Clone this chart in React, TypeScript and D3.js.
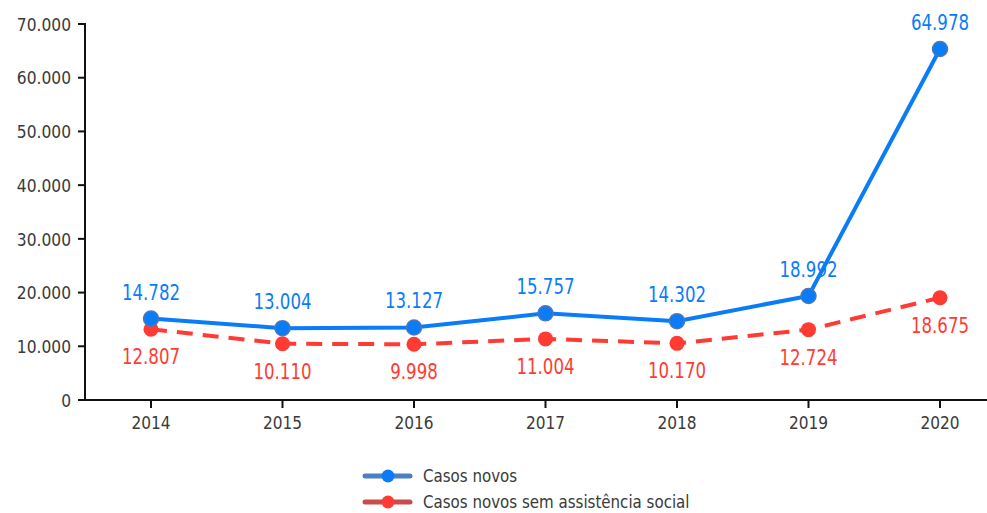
import React from "react";
import * as d3 from "d3";

const years = ["2014", "2015", "2016", "2017", "2018", "2019", "2020"];
const casosNovos = [14782, 13004, 13127, 15757, 14302, 18992, 64978];
const semAssistencia = [12807, 10110, 9998, 11004, 10170, 12724, 18675];
const yTicks = [0, 10000, 20000, 30000, 40000, 50000, 60000, 70000];
const seriesNames = ["Casos novos", "Casos novos sem assistência social"];

const W = 987;
const H = 513;
const FONT = "'DejaVu Sans Condensed', 'DejaVu Sans', sans-serif";
const BLUE = "#0a7cf7";
const RED = "#ff3b33";

const fmt = (v: number) => d3.format(",")(v).replace(/,/g, ".");

function CText(props: {
  x: number;
  y: number;
  sx: number;
  size: number;
  fill: string;
  anchor?: string;
  dy?: string;
  children: React.ReactNode;
}) {
  const { x, y, sx, size, fill, anchor, dy, children } = props;
  return (
    <g transform={`translate(${x},${y}) scale(${sx},1)`}>
      <text
        x={0}
        y={0}
        dy={dy}
        textAnchor={anchor || "start"}
        fontFamily={FONT}
        fontSize={size}
        fill={fill}
      >
        {children}
      </text>
    </g>
  );
}

export default function App() {
  const x = d3.scalePoint<string>().domain(years).range([151, 940]);
  const y = d3.scaleLinear().domain([0, 70000]).range([400, 24]);
  const line = d3
    .line<number>()
    .x((_, i) => x(years[i]) as number)
    .y((d) => y(d));

  return (
    <svg width={W} height={H} style={{ position: "absolute", left: 0, top: 0 }}>
      <rect width={W} height={H} fill="#fff" />
      {/* Y axis */}
      <line x1={85} x2={85} y1={23} y2={401} stroke="#111" strokeWidth={2} />
      {yTicks.map((t) => (
        <g key={t}>
          <line x1={78} x2={85} y1={y(t)} y2={y(t)} stroke="#111" strokeWidth={2} />
          <CText x={71} y={y(t)} dy="0.36em" anchor="end" size={18.5} sx={0.93} fill="#3a3a3a">
            {fmt(t)}
          </CText>
        </g>
      ))}
      {/* X axis */}
      <line x1={84} x2={W} y1={400} y2={400} stroke="#111" strokeWidth={2} />
      {years.map((yr) => (
        <g key={yr}>
          <line x1={x(yr)} x2={x(yr)} y1={400} y2={408} stroke="#111" strokeWidth={2} />
          <CText x={x(yr) as number} y={423} dy="0.36em" anchor="middle" size={18} sx={0.95} fill="#3a3a3a">
            {yr}
          </CText>
        </g>
      ))}
      <g transform="translate(0,-2)">
        <path
          d={line(semAssistencia) || ""}
          fill="none"
          stroke={RED}
          strokeWidth={4}
          strokeDasharray="16 10"
        />
        <path d={line(casosNovos) || ""} fill="none" stroke={BLUE} strokeWidth={4} />
        {semAssistencia.map((v, i) => (
          <g key={"r" + i}>
            <circle cx={x(years[i])} cy={y(v)} r={7.5} fill={RED} />
            <CText x={x(years[i]) as number} y={y(v) + 35} anchor="middle" size={22} sx={0.84} fill={RED}>
              {fmt(v)}
            </CText>
          </g>
        ))}
        {casosNovos.map((v, i) => (
          <g key={"b" + i}>
            <circle
              cx={x(years[i])}
              cy={y(v)}
              r={7.5}
              fill={BLUE}
              stroke="#4a78b8"
              strokeWidth={1.5}
            />
            <CText x={x(years[i]) as number} y={y(v) - 19} anchor="middle" size={22} sx={0.84} fill={BLUE}>
              {fmt(v)}
            </CText>
          </g>
        ))}
      </g>
      {/* Legend */}
      {seriesNames.map((name, i) => {
        const ly = 476 + i * 26;
        const lc = i === 0 ? "#4a7fc1" : "#c84c4c";
        const mc = i === 0 ? BLUE : RED;
        return (
          <g key={name}>
            <line x1={365} x2={410} y1={ly} y2={ly} stroke={lc} strokeWidth={5} strokeLinecap="round" />
            <circle cx={388} cy={ly} r={6.5} fill={mc} />
            <CText x={423} y={ly} dy="0.36em" size={18} sx={0.93} fill="#3a3a3a">
              {name}
            </CText>
          </g>
        );
      })}
    </svg>
  );
}
